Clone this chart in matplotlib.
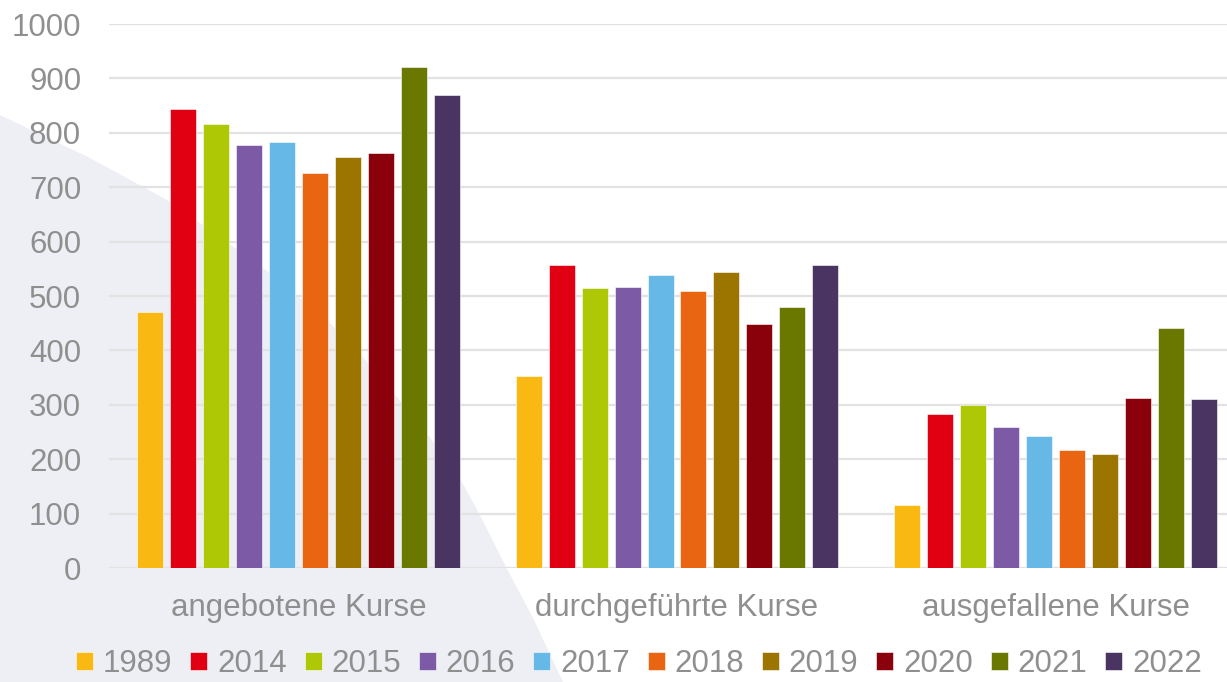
import numpy as np
import matplotlib.pyplot as plt
from matplotlib.patches import Polygon

plt.rcParams['font.family'] = ['Liberation Sans', 'DejaVu Sans']

# Data
categories = ['angebotene Kurse', 'durchgeführte Kurse', 'ausgefallene Kurse']
years = ['1989', '2014', '2015', '2016', '2017', '2018', '2019', '2020', '2021', '2022']
values = {
    '1989': [470, 353, 116],
    '2014': [843, 557, 284],
    '2015': [816, 514, 300],
    '2016': [777, 516, 260],
    '2017': [783, 539, 243],
    '2018': [727, 509, 217],
    '2019': [755, 545, 209],
    '2020': [762, 449, 312],
    '2021': [921, 479, 441],
    '2022': [869, 557, 310],
}
colors = ['#F9B912', '#E10012', '#AFC805', '#7D5AA5', '#66B9E6',
          '#EA6512', '#9C7400', '#8A000B', '#6A7800', '#4A3562']

text_color = '#8f8f8f'
W, H = 1227, 682

fig = plt.figure(figsize=(W / 100, H / 100), dpi=100)

# decorative grey arc in the background (pixel coords, y from top)
arc = [(0, 115), (90, 158), (167, 200), (200, 223), (270, 273), (330, 323),
       (367, 362), (415, 418), (457, 473), (480, 515), (505, 565), (533, 618),
       (563, 682), (0, 682)]
arc = [(px / W, 1 - py / H) for px, py in arc]
fig.patches.append(Polygon(arc, closed=True, transform=fig.transFigure,
                           facecolor='#eeeff5', edgecolor='none', zorder=-1))

ax = fig.add_axes([109 / W, 1 - 568 / H, (1245 - 109) / W, (568 - 24) / H])
ax.patch.set_alpha(0)

x = np.arange(len(categories))
step = 33 / 379
width = 26 / 379
for j, yr in enumerate(years):
    ax.bar(x + (j - 4.5) * step, values[yr], width, color=colors[j],
           edgecolor='white', linewidth=0.4, label=yr, zorder=3)

ax.set_xlim(-0.5, 2.5)
ax.set_ylim(0, 1000)
ax.set_yticks(range(0, 1001, 100))
ax.set_xticks(x)
ax.set_xticklabels(categories)
ax.yaxis.grid(True, color='#e2e2e2', linewidth=1.6)
ax.set_axisbelow(True)
for s in ax.spines.values():
    s.set_visible(False)
ax.tick_params(axis='y', length=0, pad=20, labelsize=22.5, labelcolor=text_color)
ax.tick_params(axis='x', length=0, pad=18, labelsize=22.5, labelcolor=text_color)

fig.legend(loc='center', bbox_to_anchor=(639 / W, 1 - 664 / H), ncol=10,
           frameon=False, fontsize=22.5, labelcolor=text_color,
           handlelength=0.55, handleheight=0.55, handletextpad=0.31,
           columnspacing=0.57, borderpad=0)

fig.savefig('out.png', dpi=100)
